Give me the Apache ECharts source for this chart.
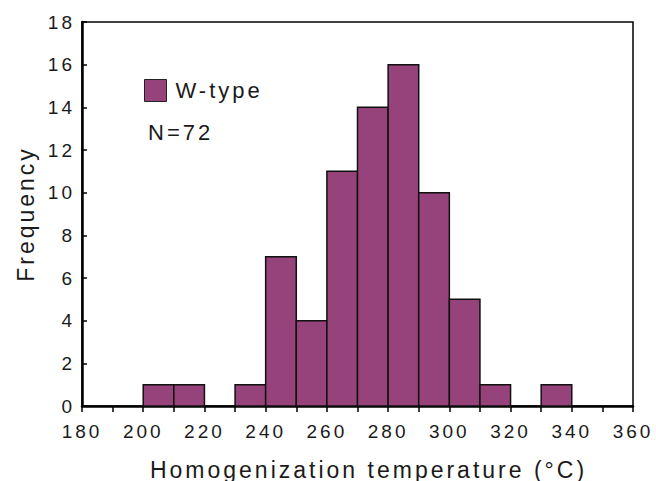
<!DOCTYPE html>
<html>
<head>
<meta charset="utf-8">
<script src="https://cdn.jsdelivr.net/npm/echarts@6/dist/echarts.min.js"></script>
<style>
html,body{margin:0;padding:0;background:#fff;}
#chart{width:656px;height:481px;}
#chart text{letter-spacing:3px;}
</style>
</head>
<body>
<div id="chart"></div>
<script>
// histogram bins (°C) and counts
var binStart = [200, 210, 230, 240, 250, 260, 270, 280, 290, 300, 310, 330];
var binEnd   = [210, 220, 240, 250, 260, 270, 280, 290, 300, 310, 320, 340];
var counts   = [1, 1, 1, 7, 4, 11, 14, 16, 10, 5, 1, 1];
var seriesName = 'W-type';
var totalLabel = 'N=72';

var barColor = '#95437a';
var textColor = '#1a1a1a';
var font = 'Liberation Sans, Arial, Helvetica, sans-serif';

// svg renderer so the page css can widen the letter spacing like the original
var chart = echarts.init(document.getElementById('chart'), null, {renderer: 'svg'});

var data = binStart.map(function (s, i) {
    return [s, binEnd[i], counts[i]];
});

var options = {
    animation: false,
    grid: {
        left: 82,
        right: 23,
        top: 22,
        bottom: 75,
        outerBoundsMode: 'none',
        show: true,
        borderColor: '#000',
        borderWidth: 1.5,
        backgroundColor: 'transparent'
    },
    legend: {
        data: [seriesName],
        left: 144,
        top: 79,
        padding: 0,
        icon: 'rect',
        itemWidth: 22,
        itemHeight: 22,
        textStyle: {fontFamily: font, fontSize: 22, color: textColor, padding: [0, 0, 0, 4]},
        itemStyle: {color: barColor, borderColor: '#222', borderWidth: 1}
    },
    graphic: [{
        type: 'text',
        left: 148,
        top: 121,
        style: {text: totalLabel, font: '22px ' + font, fill: textColor}
    }],
    xAxis: {
        type: 'value',
        min: 180,
        max: 360,
        interval: 10,
        name: 'Homogenization temperature (°C)',
        nameLocation: 'middle',
        nameGap: 52,
        nameTextStyle: {fontFamily: font, fontSize: 23, color: textColor, padding: [0, 0, 0, 22]},
        axisLine: {show: true, lineStyle: {color: '#000', width: 2.5}},
        axisTick: {show: true, inside: false, length: 6, lineStyle: {color: '#000', width: 1.5}},
        axisLabel: {
            fontFamily: font, fontSize: 19, color: textColor, margin: 16,
            formatter: function (v) { return v % 20 === 0 ? v : ''; }
        },
        splitLine: {show: false}
    },
    yAxis: {
        type: 'value',
        min: 0,
        max: 18,
        interval: 2,
        name: 'Frequency',
        nameLocation: 'middle',
        nameGap: 45,
        nameTextStyle: {fontFamily: font, fontSize: 23, color: textColor},
        axisLine: {show: true, lineStyle: {color: '#000', width: 2.5}},
        axisTick: {show: true, inside: true, length: 5, lineStyle: {color: '#000', width: 1.5}},
        axisLabel: {fontFamily: font, fontSize: 19, color: textColor, margin: 7},
        splitLine: {show: false}
    },
    series: [{
        name: seriesName,
        type: 'custom',
        itemStyle: {color: barColor, borderColor: '#111', borderWidth: 1.5},
        encode: {x: [0, 1], y: 2},
        data: data,
        renderItem: function (params, api) {
            var p0 = api.coord([api.value(0), api.value(2)]);
            var p1 = api.coord([api.value(1), 0]);
            return {
                type: 'rect',
                shape: {x: p0[0], y: p0[1], width: p1[0] - p0[0], height: p1[1] - p0[1]},
                style: {fill: barColor, stroke: '#111', lineWidth: 1.5}
            };
        }
    }]
};

chart.setOption(options);
</script>
</body>
</html>
